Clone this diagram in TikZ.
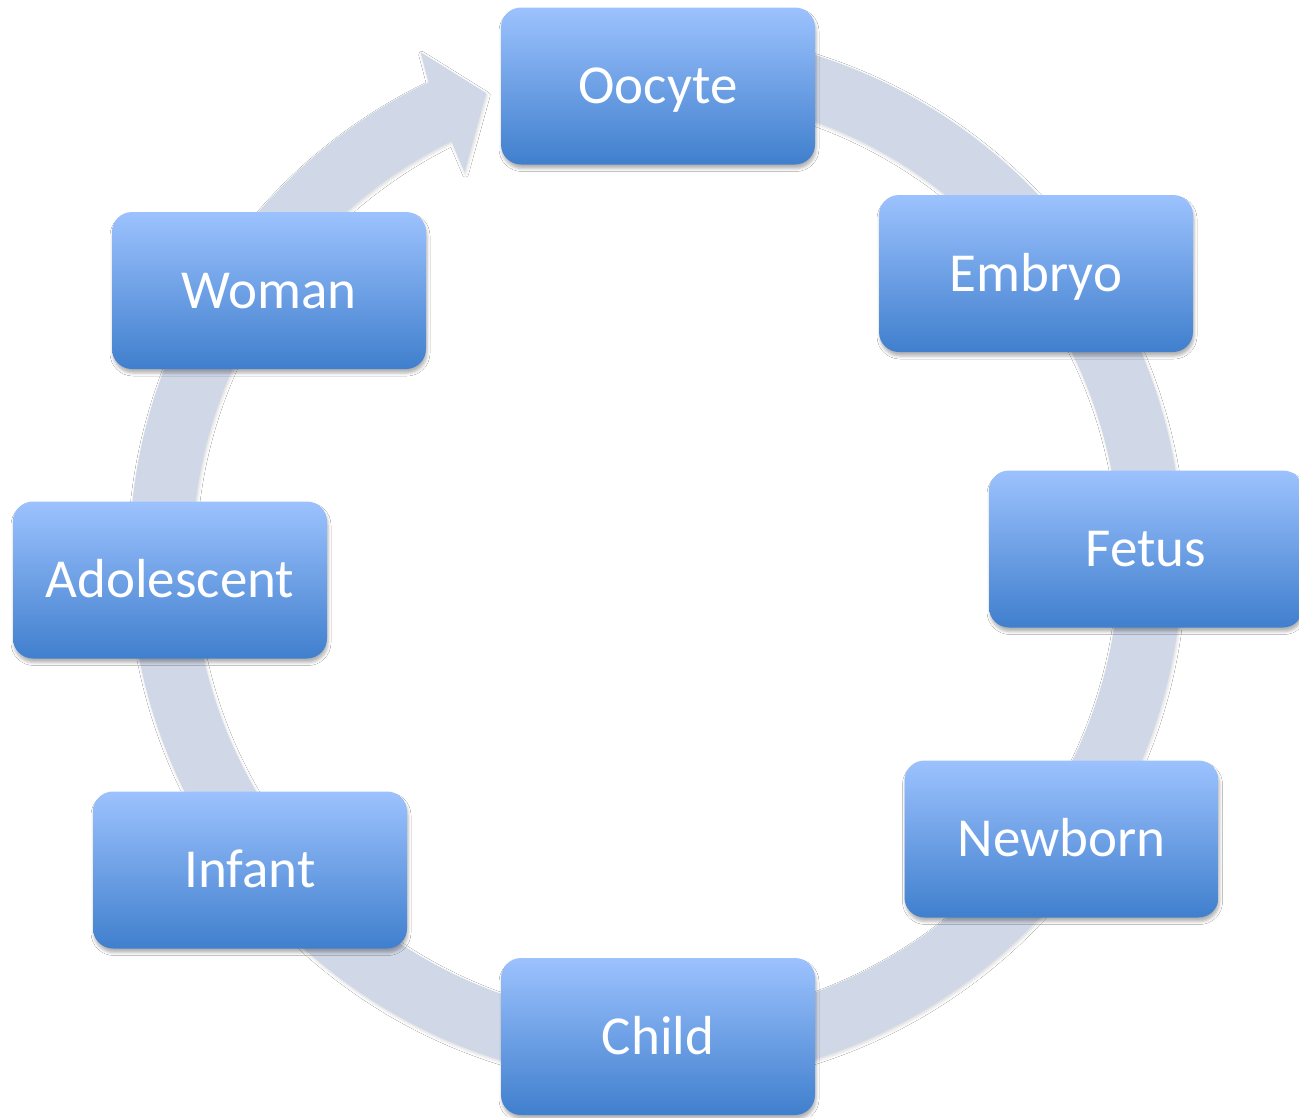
\documentclass[tikz,border=0pt]{standalone}
\usepackage{fontspec}
\setmainfont{Carlito}
\usetikzlibrary{shadows.blur}
\definecolor{ringcol}{RGB}{208,216,232}
\definecolor{boxtop}{RGB}{156,194,254}
\definecolor{boxbot}{RGB}{64,127,205}
\tikzset{
  stage/.style={rectangle, rounded corners=20pt, minimum width=314pt, minimum height=157pt,
    inner sep=0pt, top color=boxtop, bottom color=boxbot, draw=none,
    text=white, font=\fontsize{55}{66}\selectfont, text height=35pt, text depth=0pt,
    blur shadow={shadow xshift=1pt, shadow yshift=-4pt, shadow blur radius=3pt, shadow opacity=30}},
  ring/.style={fill=ringcol, blur shadow={shadow xshift=1pt, shadow yshift=-2pt, shadow blur radius=3pt, shadow opacity=15}}
}
\begin{document}
\begin{tikzpicture}[x=1pt,y=-1pt]
\useasboundingbox (0,0) rectangle (1299,1117);
\fill[white] (0,0) rectangle (1299,1117);
\begin{scope}[shift={(656,557)}]
\path[ring] (-85:526.5) arc[start angle=-85, end angle=244.4, radius=526.5]
  -- (245:557) -- (249.9:494) -- (243.55:430) -- (243.8:463.5)
  arc[start angle=243.8, end angle=-85, radius=463.5] -- cycle;
\end{scope}
\node[stage] (oocyte) at (658,86) {Oocyte};
\node[stage] (embryo) at (1036,273.5) {Embryo};
\node[stage] (fetus) at (1146,549) {Fetus};
\node[stage] (newborn) at (1061.5,839) {Newborn};
\node[stage] (child) at (658,1036.5) {Child};
\node[stage] (infant) at (250,870) {Infant};
\node[stage] (adolescent) at (170,580) {Adolescent};
\node[stage] (woman) at (269,290.5) {Woman};
\end{tikzpicture}
\end{document}
